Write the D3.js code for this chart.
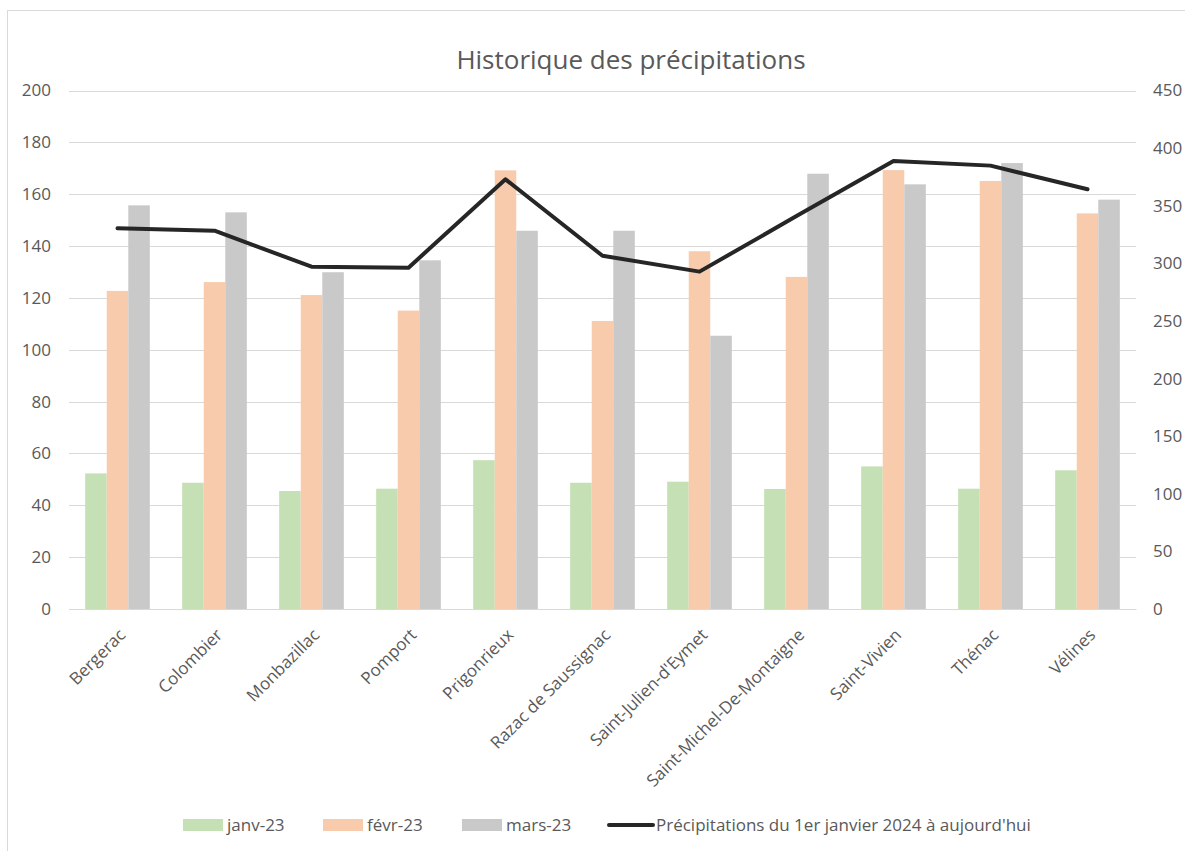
<!DOCTYPE html>
<html>
<head>
<meta charset="utf-8">
<script src="https://cdn.jsdelivr.net/npm/d3@7"></script>
<style>
  body { margin: 0; background: #fff; }
  text { font-family: "Open Sans", Lato, sans-serif; fill: #595959; }
</style>
</head>
<body>
<div id="chart"></div>
<script>
const W = 1185, H = 851;
const plot = { left: 69, right: 1136, top: 90.5, bottom: 609 };

const categories = [
  "Bergerac", "Colombier", "Monbazillac", "Pomport", "Prigonrieux",
  "Razac de Saussignac", "Saint-Julien-d'Eymet", "Saint-Michel-De-Montaigne",
  "Saint-Vivien", "Thénac", "Vélines"
];
const seriesNames = ["janv-23", "févr-23", "mars-23"];
const seriesColors = ["#C5E0B4", "#F8CBAD", "#C9C9C9"];
const janv23 = [52.3, 48.7, 45.5, 46.4, 57.4, 48.7, 49.1, 46.3, 55.0, 46.4, 53.5];
const fevr23 = [122.7, 126.1, 121.1, 115.1, 169.2, 111.1, 138.0, 128.1, 169.3, 165.1, 152.6];
const mars23 = [155.7, 153.0, 129.9, 134.5, 145.9, 145.9, 105.4, 167.9, 163.8, 172.0, 157.9];
const lineName = "Précipitations du 1er janvier 2024 à aujourd'hui";
const cumul2024 = [330.4, 328.3, 297.1, 296.2, 372.9, 306.6, 292.8, 341.0, 388.8, 384.8, 364.3];
const leftTicks = [0, 20, 40, 60, 80, 100, 120, 140, 160, 180, 200];
const rightTicks = [0, 50, 100, 150, 200, 250, 300, 350, 400, 450];

const barValues = [janv23, fevr23, mars23];
const fs = "17px";

const svg = d3.select("#chart").append("svg")
  .attr("width", W).attr("height", H);

svg.append("rect").attr("width", W).attr("height", H).attr("fill", "#fff");

// chart frame (only top/left visible in the capture)
svg.append("rect")
  .attr("x", 7.5).attr("y", 10.5)
  .attr("width", 1300).attr("height", 1000)
  .attr("fill", "none").attr("stroke", "#d9d9d9");

svg.append("text")
  .attr("x", 631).attr("y", 69)
  .attr("text-anchor", "middle")
  .style("font-size", "26px")
  .text("Historique des précipitations");

const x = d3.scaleBand().domain(categories).range([plot.left, plot.right]);
const bw = x.bandwidth();
const x1 = d3.scaleBand().domain(seriesNames).range([bw / 6, bw * 5 / 6]);
const yL = d3.scaleLinear().domain([0, 200]).range([plot.bottom, plot.top]);
const yR = d3.scaleLinear().domain([0, 450]).range([plot.bottom, plot.top]);

// gridlines
svg.append("g")
  .selectAll("line")
  .data(leftTicks)
  .join("line")
  .attr("x1", plot.left).attr("x2", plot.right)
  .attr("y1", d => Math.round(yL(d)) + 0.5).attr("y2", d => Math.round(yL(d)) + 0.5)
  .attr("stroke", "#d9d9d9").attr("stroke-width", 1);

// left axis
const axL = svg.append("g")
  .attr("transform", `translate(${plot.left},0)`)
  .call(d3.axisLeft(yL).tickValues(leftTicks).tickSize(0).tickPadding(18));
axL.select(".domain").remove();
axL.selectAll("text").style("font-size", fs).style("fill", "#595959")
  .style("font-family", null);

// right axis
const axR = svg.append("g")
  .attr("transform", `translate(${plot.right},0)`)
  .call(d3.axisRight(yR).tickValues(rightTicks).tickSize(0).tickPadding(17));
axR.select(".domain").remove();
axR.selectAll("text").style("font-size", fs).style("fill", "#595959")
  .style("font-family", null);

// bars
const groups = svg.append("g")
  .selectAll("g")
  .data(categories)
  .join("g")
  .attr("transform", d => `translate(${x(d)},0)`);

groups.selectAll("rect")
  .data((c, i) => seriesNames.map((s, j) => ({ s, j, v: barValues[j][i] })))
  .join("rect")
  .attr("x", d => x1(d.s))
  .attr("width", x1.bandwidth())
  .attr("y", d => yL(d.v))
  .attr("height", d => yL(0) - yL(d.v))
  .attr("fill", d => seriesColors[d.j]);

// category axis
const axX = svg.append("g")
  .attr("transform", `translate(0,${plot.bottom})`)
  .call(d3.axisBottom(x).tickSize(0).tickPadding(0));
axX.select(".domain").attr("stroke", "#d9d9d9");
axX.selectAll("text")
  .style("font-size", fs).style("fill", "#595959").style("font-family", null)
  .attr("text-anchor", "end")
  .attr("dy", null).attr("y", 0)
  .attr("transform", "translate(9,27) rotate(-45)");

// line series (secondary axis)
const line = d3.line()
  .x((d, i) => x(categories[i]) + bw / 2)
  .y(d => yR(d));

svg.append("path")
  .datum(cumul2024)
  .attr("d", line)
  .attr("fill", "none")
  .attr("stroke", "#262626")
  .attr("stroke-width", 4)
  .attr("stroke-linejoin", "round")
  .attr("stroke-linecap", "round");

// legend
const legY = 825;
const legItems = [
  { name: seriesNames[0], color: seriesColors[0], x: 183, type: "rect" },
  { name: seriesNames[1], color: seriesColors[1], x: 323, type: "rect" },
  { name: seriesNames[2], color: seriesColors[2], x: 462, type: "rect" },
  { name: lineName, color: "#262626", x: 607, type: "line" }
];
const leg = svg.append("g");
legItems.forEach(it => {
  if (it.type === "rect") {
    leg.append("rect")
      .attr("x", it.x).attr("y", legY - 6)
      .attr("width", 40).attr("height", 12)
      .attr("fill", it.color);
  } else {
    leg.append("line")
      .attr("x1", it.x + 2).attr("x2", it.x + 46)
      .attr("y1", legY).attr("y2", legY)
      .attr("stroke", it.color).attr("stroke-width", 4)
      .attr("stroke-linecap", "round");
  }
  leg.append("text")
    .attr("x", it.x + (it.type === "rect" ? 44 : 49))
    .attr("y", legY + 6)
    .style("font-size", fs)
    .text(it.name);
});
</script>
</body>
</html>
